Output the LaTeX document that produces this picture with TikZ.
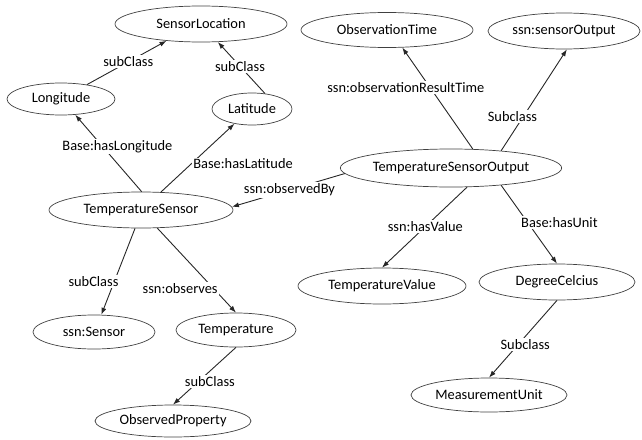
\documentclass[tikz,border=0pt]{standalone}
\usepackage{fontspec}
\setmainfont{Carlito}
\usetikzlibrary{shapes.geometric,arrows.meta}
\begin{document}
\begin{tikzpicture}[x=1pt,y=-1pt,
  every node/.style={font=\fontsize{14.4}{17}\selectfont},
  cls/.style={ellipse,draw=black!75,line width=0.7pt,inner sep=0pt},
  arr/.style={draw=black!85,line width=0.9pt,-{Latex[length=7pt,width=5pt]}},
  lbl/.style={fill=white,inner sep=1.5pt}]
\useasboundingbox (0,0) rectangle (642,439);
\node[cls,minimum width=172,minimum height=36] (sl) at (201,24) {SensorLocation};
\node[cls,minimum width=108,minimum height=32] (lon) at (61,99) {Longitude};
\node[cls,minimum width=80,minimum height=32] (lat) at (252,109) {Latitude};
\node[cls,minimum width=184,minimum height=36] (ts) at (141,210) {TemperatureSensor};
\node[cls,minimum width=172,minimum height=35] (ot) at (387,30) {ObservationTime};
\node[cls,minimum width=152,minimum height=36] (so) at (564,31) {ssn:sensorOutput};
\node[cls,minimum width=168,minimum height=38] (tso) at (451,168) {TemperatureSensorOutput};
\node[cls,minimum width=122,minimum height=34] (ss) at (94,332) {ssn:Sensor};
\node[cls,minimum width=120,minimum height=34] (tp) at (236,330) {Temperature};
\node[cls,minimum width=156,minimum height=32] (op) at (173,421) {ObservedProperty};
\node[cls,minimum width=168,minimum height=36] (tv) at (382,286) {TemperatureValue};
\node[cls,minimum width=156,minimum height=36] (dc) at (557,282) {DegreeCelcius};
\node[cls,minimum width=156,minimum height=34] (mu) at (489,395) {MeasurementUnit};

\draw[arr] (lon.29) -- node[lbl,pos=0.52] (l1) {subClass} (sl.206);
\draw[arr] (lat.50) -- node[lbl,pos=0.53] (l2) {subClass} (sl.313);
\draw[arr] (ts.88) -- node[lbl,pos=0.59,xshift=15] (l3) {Base:hasLongitude} (lon.-48);
\draw[arr] (ts.42) -- node[lbl,pos=0.41,xshift=52] (l4) {Base:hasLatitude} (lat.220);
\draw[arr] (tso.183) -- node[lbl,pos=0.49] (l5) {ssn:observedBy} (ts.2);
\draw[arr] (tso.41) -- node[lbl,pos=0.61,xshift=-24] (l6) {ssn:observationResultTime} (ot.-49);
\draw[arr] (tso.19) -- node[lbl,pos=0.34,xshift=-11] (l7) {Subclass} (so.-81);
\draw[arr] (tso.-50) -- node[lbl,pos=0.49] (l8) {ssn:hasValue} (tv.90);
\draw[arr] (tso.-19) -- node[lbl,pos=0.47,xshift=32] (l9) {Base:hasUnit} (dc.90);
\draw[arr] (dc.270) -- node[lbl,pos=0.57,xshift=7] (l10) {Subclass} (mu.90);
\draw[arr] (ts.252) -- node[lbl,pos=0.61,xshift=-21] (l11) {subClass} (ss.67);
\draw[arr] (ts.-48) -- node[lbl,pos=0.71,xshift=-33] (l12) {ssn:observes} (tp.90);
\draw[arr] (tp.270) -- node[lbl,pos=0.59,xshift=11] (l13) {subClass} (op.90);
\end{tikzpicture}
\end{document}
